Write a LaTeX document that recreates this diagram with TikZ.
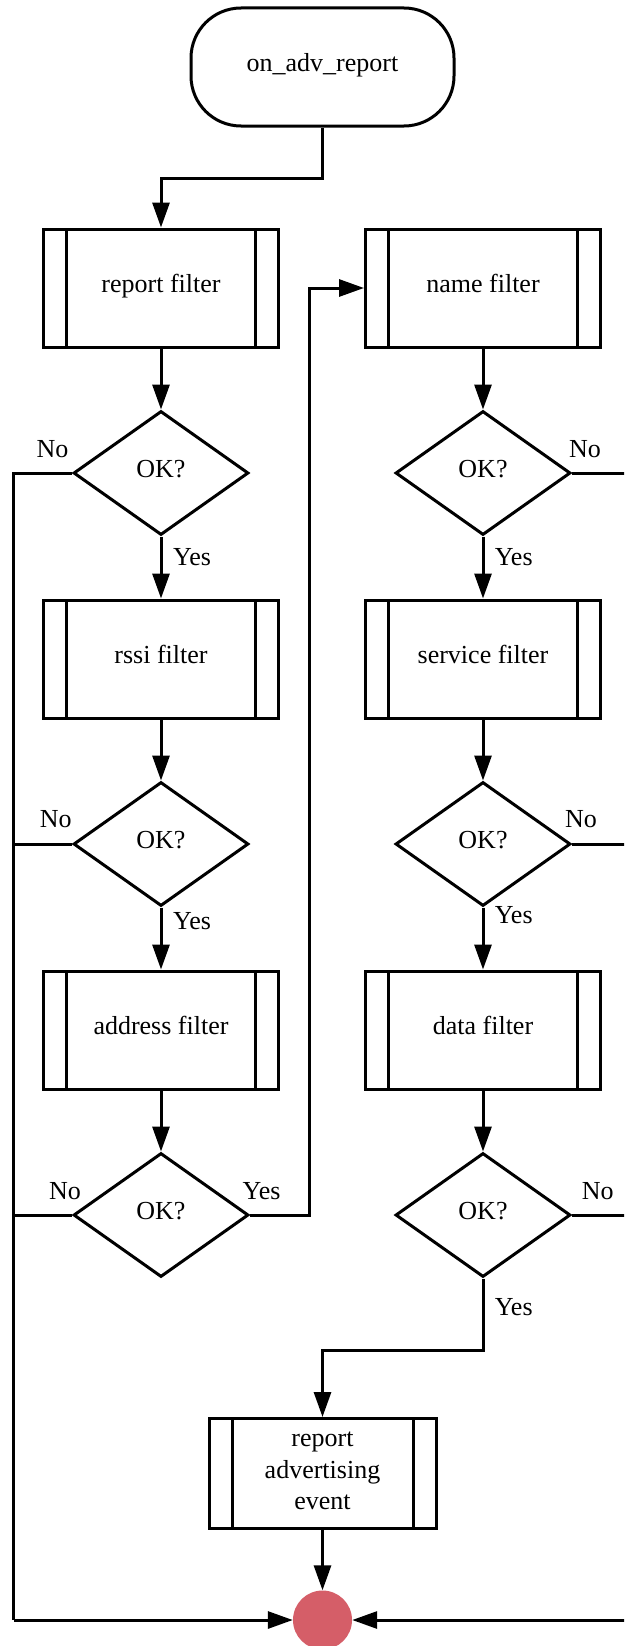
\documentclass[tikz,border=0pt]{standalone}
\usepackage{fontspec}
\setmainfont{Liberation Serif}
\usetikzlibrary{shapes.geometric,arrows.meta}
\definecolor{endred}{RGB}{213,94,104}

\tikzset{
  base/.style={line width=3pt, draw=black, inner sep=0pt, align=center},
  oneline/.style={text height=18pt, text depth=10pt},
  terminal/.style={base, oneline, rectangle, rounded corners=50pt,
    minimum width=263pt, minimum height=118pt},
  subproc/.style={base, rectangle, minimum width=235pt, minimum height=118pt,
    path picture={
      \draw[line width=3pt]
        ([xshift=23pt]path picture bounding box.north west) --
        ([xshift=23pt]path picture bounding box.south west)
        ([xshift=-23pt]path picture bounding box.north east) --
        ([xshift=-23pt]path picture bounding box.south east);
    }},
  decision/.style={base, oneline, diamond, aspect=1.41, minimum width=175pt, minimum height=124pt},
  endpoint/.style={circle, fill=endred, draw=none, minimum size=59pt, inner sep=0pt},
  lbl/.style={inner sep=0pt},
  flow/.style={line width=3pt, -{Triangle[length=25pt,width=17pt]}},
  plain/.style={line width=3pt},
}

\begin{document}
\begin{tikzpicture}[x=1pt, y=-1pt, font=\fontsize{26}{31.5}\selectfont]
\useasboundingbox (0,0) rectangle (624,1646);
\clip (0,0) rectangle (624,1646);

% nodes
\node[terminal] (start) at (322.5,67) {on\_adv\_report};

\node[subproc, oneline] (repf)  at (161,288)  {report filter};
\node[decision]         (okA)   at (161,473)  {OK?};
\node[subproc, oneline] (rssif) at (161,659)  {rssi filter};
\node[decision]         (okB)   at (161,844)  {OK?};
\node[subproc, oneline] (addrf) at (161,1030) {address filter};
\node[decision]         (okC)   at (161,1215) {OK?};

\node[subproc, oneline] (namef) at (483,288)  {name filter};
\node[decision]         (okD)   at (483,473)  {OK?};
\node[subproc, oneline] (svcf)  at (483,659)  {service filter};
\node[decision]         (okE)   at (483,844)  {OK?};
\node[subproc, oneline] (dataf) at (483,1030) {data filter};
\node[decision]         (okF)   at (483,1215) {OK?};

\node[subproc, minimum width=227pt, minimum height=110pt, text depth=5pt] (evt)
  at (322.5,1473.5) {report\\advertising\\event};
\node[endpoint] (done) at (322.5,1620) {};

\coordinate (lowL) at (13.7,1620);
\coordinate (lowR) at (640,1620);

% main flow, left column
\draw[flow] (start.south) -- ++(0,50.5) -| (repf.north);
\draw[flow] (repf.south) -- (okA.north);
\draw[flow] (okA.south) -- (rssif.north);
\draw[flow] (rssif.south) -- (okB.north);
\draw[flow] (okB.south) -- (addrf.north);
\draw[flow] (addrf.south) -- (okC.north);
\draw[flow] (okC.east) -- ++(59,0) |- (namef.west);

% right column
\draw[flow] (namef.south) -- (okD.north);
\draw[flow] (okD.south) -- (svcf.north);
\draw[flow] (svcf.south) -- (okE.north);
\draw[flow] (okE.south) -- (dataf.north);
\draw[flow] (dataf.south) -- (okF.north);
\draw[flow] (okF.south) -- ++(0,72) -| (evt.north);
\draw[flow] (evt.south) -- (done.north);

% rejection paths
\draw[plain] (okA.west) -| (lowL);
\draw[plain] (okB.west) -| (lowL);
\draw[plain] (okC.west) -| (lowL);
\draw[flow] (lowL) -- (done.west);
\draw[plain] (okD.east) -| (lowR);
\draw[plain] (okE.east) -| (lowR);
\draw[plain] (okF.east) -| (lowR);
\draw[flow] (lowR) -- (done.east);

% branch labels
\node[lbl] (noA)  at (52.5,449)  {No};
\node[lbl] (noB)  at (55.7,819)  {No};
\node[lbl] (noC)  at (65,1191)   {No};
\node[lbl] (noD)  at (585,449)   {No};
\node[lbl] (noE)  at (581,819)   {No};
\node[lbl] (noF)  at (597.7,1191) {No};
\node[lbl] (yesA) at (192,557)   {Yes};
\node[lbl] (yesB) at (192,921)   {Yes};
\node[lbl] (yesC) at (261.6,1191) {Yes};
\node[lbl] (yesD) at (513.7,557) {Yes};
\node[lbl] (yesE) at (513.7,915) {Yes};
\node[lbl] (yesF) at (513.7,1307) {Yes};
\end{tikzpicture}
\end{document}
